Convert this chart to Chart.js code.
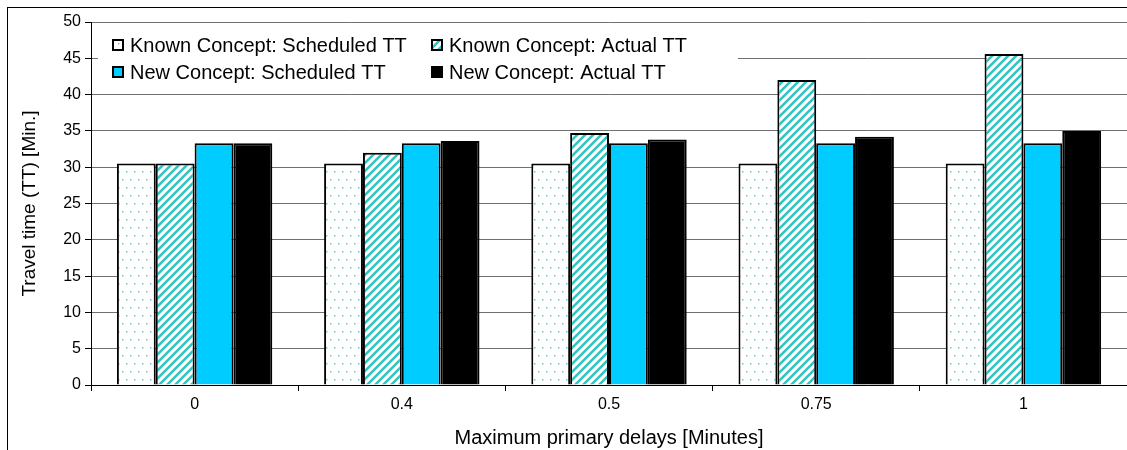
<!DOCTYPE html>
<html>
<head>
<meta charset="utf-8">
<script src="https://cdn.jsdelivr.net/npm/chart.js@4/dist/chart.umd.min.js"></script>
<style>
  html, body { margin: 0; padding: 0; background: #fff; }
  #wrap { position: relative; width: 1127px; height: 450px; overflow: hidden; }
  #frame { position: absolute; left: 7px; top: 7px; width: 1140px; height: 460px; border: 1px solid #000; box-sizing: border-box; }
  canvas { position: absolute; left: 0; top: 0; }
</style>
</head>
<body>
<div id="wrap">
  <div id="frame"></div>
  <canvas id="myChart" width="1127" height="450"></canvas>
</div>
<script>
const categories = ['0', '0.4', '0.5', '0.75', '1'];
const seriesNames = [
  'Known Concept: Scheduled TT',
  'Known Concept: Actual TT',
  'New Concept: Scheduled TT',
  'New Concept: Actual TT'
];
const knownScheduled = [30.5, 30.5, 30.5, 30.5, 30.5];
const knownActual = [30.5, 32.0, 34.7, 42.0, 45.6];
const newScheduled = [33.3, 33.3, 33.3, 33.3, 33.3];
const newActual = [33.3, 33.6, 33.8, 34.2, 35.0];
const yTicks = [0, 5, 10, 15, 20, 25, 30, 35, 40, 45, 50];

const FONT = '"Liberation Sans", Arial, sans-serif';

// small dotted tile
function dotPattern() {
  const c = document.createElement('canvas');
  c.width = 8; c.height = 16;
  const g = c.getContext('2d');
  g.fillStyle = '#fff';
  g.fillRect(0, 0, 8, 16);
  g.fillStyle = '#5fd0d0';
  g.fillRect(2, 3, 1.5, 1.5);
  g.fillRect(6, 11, 1.5, 1.5);
  return g.createPattern(c, 'repeat');
}

// diagonal stripes going up to the right
function stripePattern() {
  const c = document.createElement('canvas');
  c.width = 8; c.height = 8;
  const g = c.getContext('2d');
  g.fillStyle = '#fff';
  g.fillRect(0, 0, 8, 8);
  g.strokeStyle = '#33c3c3';
  g.lineWidth = 2.6;
  g.beginPath();
  g.moveTo(-2, 10); g.lineTo(10, -2);
  g.moveTo(-6, 6); g.lineTo(6, -6);
  g.moveTo(2, 14); g.lineTo(14, 2);
  g.stroke();
  return g.createPattern(c, 'repeat');
}

const ctx = document.getElementById('myChart').getContext('2d');
const fills = [dotPattern(), stripePattern(), '#00ccff', '#000000'];
const values = [knownScheduled, knownActual, newScheduled, newActual];

// legend drawn inside the plot area, two columns
const boxLegend = {
  id: 'boxLegend',
  afterDraw(chart) {
    const c = chart.ctx;
    c.save();
    c.fillStyle = '#fff';
    c.fillRect(98, 32, 640, 54);
    const pos = [[113, 45], [432, 45], [113, 72], [432, 72]];
    c.font = '20px ' + FONT;
    c.textBaseline = 'middle';
    seriesNames.forEach((name, i) => {
      const [x, y] = pos[i];
      c.fillStyle = fills[i];
      c.fillRect(x, y - 5, 10, 10);
      c.strokeStyle = '#000';
      c.lineWidth = 2;
      c.strokeRect(x, y - 5, 10, 10);
      c.fillStyle = '#000';
      c.fillText(name, x + 17, y + 1);
    });
    c.restore();
  }
};

new Chart(ctx, {
  type: 'bar',
  data: {
    labels: categories,
    datasets: seriesNames.map((name, i) => ({
      label: name,
      data: values[i],
      backgroundColor: fills[i],
      borderColor: '#000',
      borderWidth: 2,
      categoryPercentage: 0.75,
      barPercentage: 1
    }))
  },
  options: {
    responsive: false,
    animation: false,
    layout: { padding: { top: 22, right: 0, left: 0, bottom: 0 } },
    plugins: {
      legend: { display: false },
      tooltip: { enabled: false }
    },
    scales: {
      x: {
        afterFit(scale) { scale.height = 65; },
        grid: {
          offset: true,
          drawOnChartArea: false,
          tickLength: 6,
          color: '#000'
        },
        border: { color: '#000', width: 1 },
        ticks: { color: '#000', font: { family: FONT, size: 16 }, padding: 4 },
        title: {
          display: true,
          text: 'Maximum primary delays [Minutes]',
          color: '#000',
          font: { family: FONT, size: 20 },
          padding: { top: 2, bottom: 0 }
        }
      },
      y: {
        min: 0,
        max: 50,
        afterFit(scale) { scale.width = 91; },
        afterBuildTicks(scale) { scale.ticks = yTicks.map(v => ({ value: v })); },
        grid: {
          color: '#707070',
          tickColor: '#000',
          tickLength: 6
        },
        border: { color: '#000', width: 1 },
        ticks: { color: '#000', font: { family: FONT, size: 16 }, padding: 4 },
        title: {
          display: true,
          text: 'Travel time (TT) [Min.]',
          color: '#000',
          font: { family: FONT, size: 19 },
          padding: { top: 18, bottom: 0 }
        }
      }
    }
  },
  plugins: [boxLegend]
});
</script>
</body>
</html>
